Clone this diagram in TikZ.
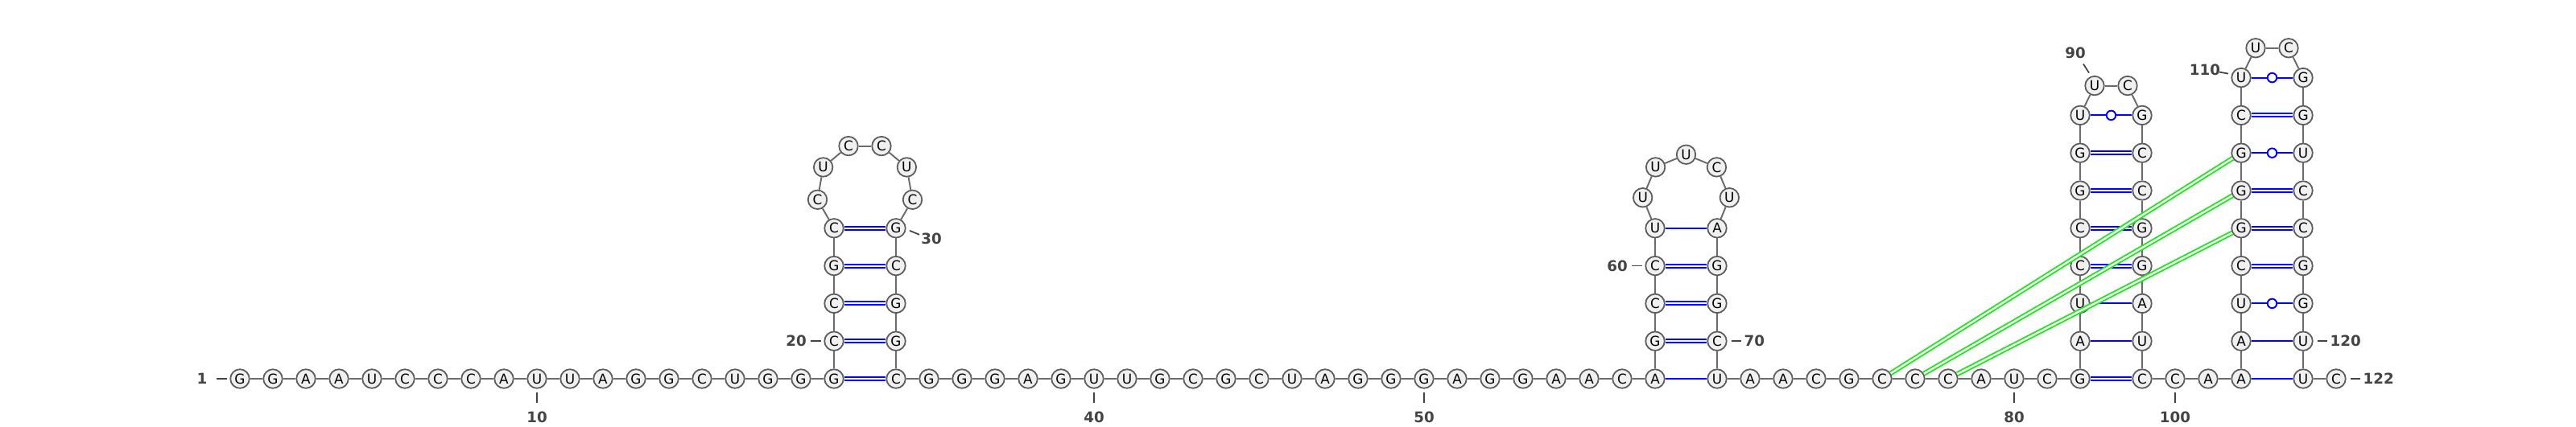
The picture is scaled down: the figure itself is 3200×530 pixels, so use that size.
\documentclass[tikz,border=0pt]{standalone}
\usepackage{fontspec}
\usepackage{tikz}
\usetikzlibrary{calc}
\newfontfamily\nucfont{DejaVu Sans}
\definecolor{nucfill}{HTML}{F0F0F0}
\definecolor{nucline}{HTML}{5C5C5C}
\definecolor{backbone}{HTML}{6B6B6B}
\definecolor{numink}{HTML}{444444}
\definecolor{wcblue}{HTML}{0000FF}
\definecolor{pkgreen}{HTML}{22E622}
\tikzset{
  nuc/.style={circle,draw=nucline,fill=nucfill,line width=0.5pt,
              minimum size=0.235cm,inner sep=0pt,
              font=\nucfont\fontsize{4.8}{5}\selectfont},
  bond/.style={draw=backbone,line width=0.55pt},
  wcpair/.style={draw=wcblue,double=white,line width=0.6pt,double distance=0.55pt},
  aupair/.style={draw=wcblue,line width=0.6pt},
  gupair/.style={draw=wcblue,line width=0.6pt},
  gumark/.style={circle,draw=wcblue,fill=white,line width=0.55pt,
                 minimum size=0.115cm,inner sep=0pt},
  pkpair/.style={draw=pkgreen,double=white,line width=0.55pt,double distance=0.65pt},
  numtick/.style={draw=numink,line width=0.5pt},
  numlabel/.style={text=numink,inner sep=0pt,
                   font=\nucfont\bfseries\fontsize{5.2}{6}\selectfont}
}
\begin{document}
\begin{tikzpicture}[x=0.01cm,y=0.01cm]
  \useasboundingbox (0,0) rectangle (3200,530);

  % 5' tail
  \foreach \b [count=\i] in {G,G,A,A,U,C,C,C,A,U,U,A,G,G,C,U,G,G,G}
    \node[nuc] (n\i) at ({298+41*(\i-1)},59) {\b};
  % hairpin 19-34
  \foreach \b [count=\i from 20] in {C,C,G,C}
    \node[nuc] (n\i) at (1036,{59+46.8*(\i-19)}) {\b};
  \foreach \b/\a [count=\i from 24] in {C/190,U/150,C/110,C/70,U/30,C/-10}
    \node[nuc] (n\i) at ($(1074.5,292.1)+(\a:59.9)$) {\b};
  \foreach \b [count=\i from 30] in {G,C,G,G,C}
    \node[nuc] (n\i) at (1113,{59+46.8*(34-\i)}) {\b};
  \foreach \b [count=\i from 35] in {G,G,G,A,G,U,U,G,C,G,C,U,A,G,G,G,A,G,G,A,A,C,A}
    \node[nuc] (n\i) at ({1113+41*(\i-34)},59) {\b};
  % hairpin 57-71
  \foreach \b [count=\i from 58] in {G,C,C,U}
    \node[nuc] (n\i) at (2056,{59+46.8*(\i-57)}) {\b};
  \foreach \b/\a [count=\i from 62] in {U/179.6,U/134.8,U/90,C/45.2,U/0.4}
    \node[nuc] (n\i) at ($(2094.5,283.9)+(\a:53.85)$) {\b};
  \foreach \b [count=\i from 67] in {A,G,G,C,U}
    \node[nuc] (n\i) at (2133,{59+46.8*(71-\i)}) {\b};
  \foreach \b [count=\i from 72] in {A,A,C,G,C,C,C,A,U,C,G}
    \node[nuc] (n\i) at ({2133+41*(\i-71)},59) {\b};
  % hairpin 82-99
  \foreach \b [count=\i from 83] in {A,U,C,C,G,G,U}
    \node[nuc] (n\i) at (2584,{59+46.8*(\i-82)}) {\b};
  \foreach \b/\a [count=\i from 90] in {U/122,C/58}
    \node[nuc] (n\i) at ($(2622.5,390.6)+(\a:38.7)$) {\b};
  \foreach \b [count=\i from 92] in {G,C,C,G,G,A,U,C}
    \node[nuc] (n\i) at (2661,{59+46.8*(99-\i)}) {\b};
  \foreach \b [count=\i from 100] in {C,A,A}
    \node[nuc] (n\i) at ({2661+41*(\i-99)},59) {\b};
  % hairpin 102-121
  \foreach \b [count=\i from 103] in {A,U,C,G,G,G,C,U}
    \node[nuc] (n\i) at (2784,{59+46.8*(\i-102)}) {\b};
  \foreach \b/\a [count=\i from 111] in {U/122,C/58}
    \node[nuc] (n\i) at ($(2822.5,437.4)+(\a:38.7)$) {\b};
  \foreach \b [count=\i from 113] in {G,G,U,C,C,G,G,U,U}
    \node[nuc] (n\i) at (2861,{59+46.8*(121-\i)}) {\b};
  \node[nuc] (n122) at (2902,59) {C};

  % backbone
  \foreach \i [remember=\i as \j (initially 1)] in {2,...,122}
    \draw[bond] (n\j) -- (n\i);

  % base pairs
  \foreach \p/\q in {19/34,20/33,21/32,22/31,23/30,58/70,59/69,60/68,82/99,85/96,
                     86/95,87/94,88/93,105/118,106/117,107/116,109/114}
    \draw[wcpair] (n\p) -- (n\q);
  \foreach \p/\q in {57/71,61/67,83/98,84/97,102/121,103/120}
    \draw[aupair] (n\p) -- (n\q);
  \foreach \p/\q in {89/92,104/119,108/115,110/113}
    \draw[gupair] (n\p) -- node[gumark] (g\p) {} (n\q);
  \foreach \p/\q in {76/108,77/107,78/106}
    \draw[pkpair] (n\p) -- (n\q);

  % numbering
  \foreach \i in {10,40,50,80,100} {
    \draw[numtick] ($(n\i)+(0,-17)$) -- ($(n\i)+(0,-30)$);
    \node[numlabel] (l\i) at ($(n\i)+(0,-48)$) {\i};
  }
  \foreach \i in {1,20,60} {
    \draw[numtick] ($(n\i)+(-16,0)$) -- ($(n\i)+(-29,0)$);
    \node[numlabel] (l\i) at ($(n\i)+(-47,0)$) {\i};
  }
  \foreach \i in {70,120,122} {
    \draw[numtick] ($(n\i)+(18,0)$) -- ($(n\i)+(30,0)$);
    \node[numlabel,anchor=west] (l\i) at ($(n\i)+(33,0)$) {\i};
  }
  \draw[numtick] ($(n30)+(17,-3)$) -- ($(n30)+(29,-8)$);
  \node[numlabel] (l30) at ($(n30)+(44,-13)$) {30};
  \draw[numtick] ($(n90)+(-7,16)$) -- ($(n90)+(-14,27)$);
  \node[numlabel] (l90) at ($(n90)+(-24,41)$) {90};
  \draw[numtick] ($(n110)+(-16,5)$) -- ($(n110)+(-27,7)$);
  \node[numlabel] (l110) at ($(n110)+(-45,10)$) {110};
\end{tikzpicture}
\end{document}
